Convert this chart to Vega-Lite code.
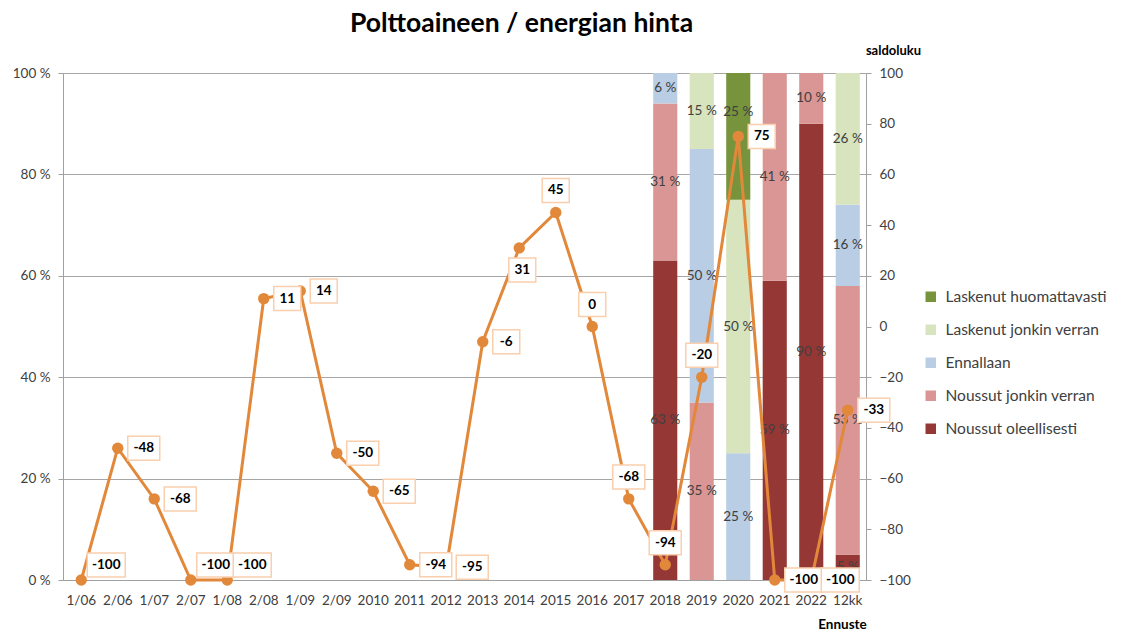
{
  "$schema": "https://vega.github.io/schema/vega-lite/v6.json",
  "width": 803,
  "height": 507,
  "autosize": {"type": "none"},
  "padding": {"left": 63, "top": 73, "right": 267, "bottom": 52},
  "background": "white",
  "config": {
    "font": "Lato",
    "view": {"stroke": null},
    "axis": {"labelFont": "Lato", "titleFont": "Lato", "labelColor": "#404040", "labelFontSize": 13.5, "domainColor": "#A0A0A0", "tickColor": "#A0A0A0", "gridColor": "#A6A6A6"}
  },
  "title": {"text": "Polttoaineen / energian hinta", "font": "Lato", "fontSize": 26.5, "fontWeight": "bold", "color": "#000000", "anchor": "middle", "dx": 57, "offset": 7},
  "datasets": {
    "bars": [
      {"t": "2018", "cat": "Noussut oleellisesti", "pct": 63},
      {"t": "2018", "cat": "Noussut jonkin verran", "pct": 31},
      {"t": "2018", "cat": "Ennallaan", "pct": 6},
      {"t": "2019", "cat": "Noussut jonkin verran", "pct": 35},
      {"t": "2019", "cat": "Ennallaan", "pct": 50},
      {"t": "2019", "cat": "Laskenut jonkin verran", "pct": 15},
      {"t": "2020", "cat": "Ennallaan", "pct": 25},
      {"t": "2020", "cat": "Laskenut jonkin verran", "pct": 50},
      {"t": "2020", "cat": "Laskenut huomattavasti", "pct": 25},
      {"t": "2021", "cat": "Noussut oleellisesti", "pct": 59},
      {"t": "2021", "cat": "Noussut jonkin verran", "pct": 41},
      {"t": "2022", "cat": "Noussut oleellisesti", "pct": 90},
      {"t": "2022", "cat": "Noussut jonkin verran", "pct": 10},
      {"t": "12kk", "cat": "Noussut oleellisesti", "pct": 5},
      {"t": "12kk", "cat": "Noussut jonkin verran", "pct": 53},
      {"t": "12kk", "cat": "Ennallaan", "pct": 16},
      {"t": "12kk", "cat": "Laskenut jonkin verran", "pct": 26}
    ],
    "saldo": [
      {"t": "1/06", "s": -100},
      {"t": "2/06", "s": -48},
      {"t": "1/07", "s": -68},
      {"t": "2/07", "s": -100},
      {"t": "1/08", "s": -100},
      {"t": "2/08", "s": 11},
      {"t": "1/09", "s": 14},
      {"t": "2/09", "s": -50},
      {"t": "2010", "s": -65},
      {"t": "2011", "s": -94},
      {"t": "2012", "s": -95},
      {"t": "2013", "s": -6},
      {"t": "2014", "s": 31},
      {"t": "2015", "s": 45},
      {"t": "2016", "s": 0},
      {"t": "2017", "s": -68},
      {"t": "2018", "s": -94},
      {"t": "2019", "s": -20},
      {"t": "2020", "s": 75},
      {"t": "2021", "s": -100},
      {"t": "2022", "s": -100},
      {"t": "12kk", "s": -33}
    ]
  },
  "encoding": {
    "x": {
      "field": "t", "type": "nominal",
      "scale": {"domain": ["1/06","2/06","1/07","2/07","1/08","2/08","1/09","2/09","2010","2011","2012","2013","2014","2015","2016","2017","2018","2019","2020","2021","2022","12kk"], "paddingInner": 0.34, "paddingOuter": 0.17},
      "axis": {"title": "Ennuste", "titleFontSize": 13.5, "titleFontWeight": "bold", "titleColor": "#000000", "titleX": 779, "titleY": 44, "titleAlign": "center", "titleBaseline": "middle", "labelAngle": 0, "ticks": false, "labelPadding": 13, "grid": false, "domainColor": "#A0A0A0"}
    }
  },
  "layer": [
    {
      "data": {"name": "bars"},
      "transform": [
        {"calculate": "indexof(['Noussut oleellisesti','Noussut jonkin verran','Ennallaan','Laskenut jonkin verran','Laskenut huomattavasti'], datum.cat)", "as": "ord"},
        {"stack": "pct", "groupby": ["t"], "sort": [{"field": "ord", "order": "ascending"}], "as": ["y0", "y1"]},
        {"calculate": "(datum.y0 + datum.y1) / 2", "as": "mid"},
        {"calculate": "datum.pct + ' %'", "as": "lbl"},
        {"calculate": "datum.t == '2020' && datum.cat == 'Laskenut huomattavasti' ? -24 : 0", "as": "ldy"}
      ],
      "layer": [
        {
          "mark": {"type": "bar"},
          "encoding": {
            "y": {"field": "y0", "type": "quantitative", "scale": {"domain": [0, 100], "nice": false},
                  "axis": {"title": null, "values": [0, 20, 40, 60, 80, 100], "labelExpr": "datum.value + ' %'", "grid": true, "tickSize": 5, "labelPadding": 8, "domainColor": "#A0A0A0"}},
            "y2": {"field": "y1"},
            "color": {
              "field": "cat", "type": "nominal",
              "scale": {"domain": ["Laskenut huomattavasti","Laskenut jonkin verran","Ennallaan","Noussut jonkin verran","Noussut oleellisesti"], "range": ["#77933C","#D7E4BD","#B9CDE5","#D99694","#953735"]},
              "legend": {"title": null, "orient": "none", "legendX": 860, "legendY": 216, "symbolType": "square", "symbolSize": 110, "labelFontSize": 15.5, "labelFont": "Lato", "labelColor": "#404040", "labelLimit": 0, "rowPadding": 16, "symbolStrokeWidth": 0, "labelOffset": 7}
            }
          }
        },
        {
          "mark": {"type": "text", "fontSize": 13.5, "color": "#404040", "baseline": "middle", "dy": {"expr": "datum.ldy"}},
          "encoding": {
            "y": {"field": "mid", "type": "quantitative", "title": null},
            "text": {"field": "lbl"}
          }
        }
      ]
    },
    {
      "data": {"name": "saldo"},
      "transform": [
        {"calculate": "'' + datum.s", "as": "lbl"},
        {"calculate": "length(datum.lbl) <= 2 ? 27 : (length(datum.lbl) == 3 ? 32 : 38)", "as": "w"},
        {"calculate": "indexof(['2015','2016','2017','2018','2019'], datum.t) >= 0 ? 'a' : (datum.t == '2014' ? 'b' : (indexof(['1/06','2/07','1/08'], datum.t) >= 0 ? 'u' : 'r'))", "as": "pl"},
        {"calculate": "datum.pl == 'a' ? 0 : (datum.pl == 'b' ? 3 : (datum.pl == 'u' ? 25 : 10 + datum.w / 2))", "as": "dxo"},
        {"calculate": "datum.pl == 'a' ? -22 : (datum.pl == 'b' ? 22 : (datum.pl == 'u' ? -15 : 0))", "as": "dyo"},
        {"calculate": "'M' + (-datum.w / 2) + ',-12H' + (datum.w / 2) + 'V12H' + (-datum.w / 2) + 'Z'", "as": "box"}
      ],
      "layer": [
        {
          "mark": {"type": "line", "color": "#E2883B", "strokeWidth": 3},
          "encoding": {
            "y": {"field": "s", "type": "quantitative", "scale": {"domain": [-100, 100], "nice": false},
                  "axis": {"orient": "right", "title": "saldoluku", "titleAngle": 0, "titleX": 27, "titleY": -23, "titleAlign": "center", "titleBaseline": "middle", "titleFontSize": 13, "titleFontWeight": "bold", "titleColor": "#000000", "values": [-100,-80,-60,-40,-20,0,20,40,60,80,100], "grid": false, "tickSize": 5, "labelPadding": 8, "domainColor": "#A0A0A0"}}
          }
        },
        {
          "mark": {"type": "point", "filled": true, "color": "#E2883B", "size": 130, "opacity": 1},
          "encoding": {"y": {"field": "s", "type": "quantitative"}}
        },
        {
          "mark": {"type": "point", "filled": true, "fill": "white", "stroke": "#F9CFAE", "strokeWidth": 1.5, "opacity": 1, "size": 4, "xOffset": {"expr": "datum.dxo"}, "yOffset": {"expr": "datum.dyo"}},
          "encoding": {
            "y": {"field": "s", "type": "quantitative"},
            "shape": {"field": "box", "type": "nominal", "scale": null, "legend": null}
          }
        },
        {
          "mark": {"type": "text", "fontSize": 13.5, "fontWeight": "bold", "color": "#000000", "baseline": "middle", "align": "center", "dx": {"expr": "datum.dxo"}, "dy": {"expr": "datum.dyo"}},
          "encoding": {
            "y": {"field": "s", "type": "quantitative"},
            "text": {"field": "lbl"}
          }
        }
      ]
    }
  ],
  "resolve": {"scale": {"y": "independent"}}
}
